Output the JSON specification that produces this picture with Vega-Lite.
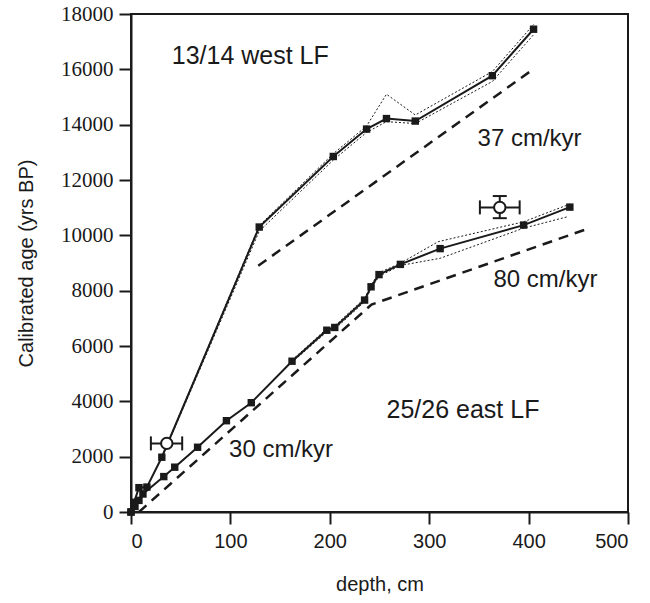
{
  "$schema": "https://vega.github.io/schema/vega-lite/v6.json",
  "autosize": "none",
  "width": 497,
  "height": 498,
  "padding": {"left": 131, "top": 14, "right": 22, "bottom": 91},
  "background": "white",
  "config": {
    "view": {"stroke": "#1a1a1a", "strokeWidth": 2},
    "axis": {"domainColor": "#1a1a1a", "domainWidth": 2, "tickColor": "#1a1a1a", "tickWidth": 2, "labelColor": "#1a1a1a", "titleColor": "#1a1a1a", "grid": false, "titleFontWeight": "normal", "titleFont": "Liberation Sans", "titleFontSize": 20}
  },
  "datasets": {
    "cores": [
      {"core": "13/14 west", "depth": 0, "age": 0},
      {"core": "13/14 west", "depth": 3, "age": 350},
      {"core": "13/14 west", "depth": 8, "age": 880},
      {"core": "13/14 west", "depth": 16, "age": 900},
      {"core": "13/14 west", "depth": 31, "age": 1980},
      {"core": "13/14 west", "depth": 129, "age": 10300},
      {"core": "13/14 west", "depth": 203.5, "age": 12850},
      {"core": "13/14 west", "depth": 237, "age": 13840},
      {"core": "13/14 west", "depth": 257, "age": 14220},
      {"core": "13/14 west", "depth": 286, "age": 14130},
      {"core": "13/14 west", "depth": 363.5, "age": 15770},
      {"core": "13/14 west", "depth": 405, "age": 17450},
      {"core": "25/26 east", "depth": 0, "age": 0},
      {"core": "25/26 east", "depth": 4, "age": 200},
      {"core": "25/26 east", "depth": 8, "age": 420},
      {"core": "25/26 east", "depth": 12, "age": 650},
      {"core": "25/26 east", "depth": 33, "age": 1280},
      {"core": "25/26 east", "depth": 44, "age": 1620},
      {"core": "25/26 east", "depth": 67, "age": 2340},
      {"core": "25/26 east", "depth": 96, "age": 3300},
      {"core": "25/26 east", "depth": 121, "age": 3950},
      {"core": "25/26 east", "depth": 162, "age": 5450},
      {"core": "25/26 east", "depth": 197, "age": 6570},
      {"core": "25/26 east", "depth": 205, "age": 6670},
      {"core": "25/26 east", "depth": 235, "age": 7660},
      {"core": "25/26 east", "depth": 241.5, "age": 8140},
      {"core": "25/26 east", "depth": 249.5, "age": 8580},
      {"core": "25/26 east", "depth": 271, "age": 8950},
      {"core": "25/26 east", "depth": 311, "age": 9520},
      {"core": "25/26 east", "depth": 395, "age": 10370},
      {"core": "25/26 east", "depth": 441.5, "age": 11020}
    ],
    "envelope": [
      {"bound": "west upper", "depth": 31, "age": 2000},
      {"bound": "west upper", "depth": 129, "age": 10350},
      {"bound": "west upper", "depth": 203.5, "age": 12950},
      {"bound": "west upper", "depth": 237, "age": 13950},
      {"bound": "west upper", "depth": 257, "age": 15100},
      {"bound": "west upper", "depth": 286, "age": 14350},
      {"bound": "west upper", "depth": 363.5, "age": 15920},
      {"bound": "west upper", "depth": 405, "age": 17620},
      {"bound": "west lower", "depth": 31, "age": 1950},
      {"bound": "west lower", "depth": 129, "age": 10150},
      {"bound": "west lower", "depth": 203.5, "age": 12720},
      {"bound": "west lower", "depth": 237, "age": 13720},
      {"bound": "west lower", "depth": 257, "age": 14110},
      {"bound": "west lower", "depth": 286, "age": 14040},
      {"bound": "west lower", "depth": 363.5, "age": 15560},
      {"bound": "west lower", "depth": 405, "age": 17250},
      {"bound": "east upper", "depth": 162, "age": 5490},
      {"bound": "east upper", "depth": 197, "age": 6630},
      {"bound": "east upper", "depth": 205, "age": 6730},
      {"bound": "east upper", "depth": 235, "age": 7720},
      {"bound": "east upper", "depth": 241.5, "age": 8200},
      {"bound": "east upper", "depth": 249.5, "age": 8650},
      {"bound": "east upper", "depth": 271, "age": 8990},
      {"bound": "east upper", "depth": 309, "age": 9770},
      {"bound": "east upper", "depth": 395, "age": 10490},
      {"bound": "east upper", "depth": 441.5, "age": 11130},
      {"bound": "east lower", "depth": 162, "age": 5410},
      {"bound": "east lower", "depth": 197, "age": 6510},
      {"bound": "east lower", "depth": 205, "age": 6610},
      {"bound": "east lower", "depth": 235, "age": 7600},
      {"bound": "east lower", "depth": 241.5, "age": 8080},
      {"bound": "east lower", "depth": 249.5, "age": 8520},
      {"bound": "east lower", "depth": 271, "age": 8910},
      {"bound": "east lower", "depth": 311, "age": 9170},
      {"bound": "east lower", "depth": 395, "age": 10260},
      {"bound": "east lower", "depth": 439, "age": 10670}
    ],
    "rates": [
      {"segment": "37 cm/kyr", "depth": 128, "age": 8900},
      {"segment": "37 cm/kyr", "depth": 401, "age": 15910},
      {"segment": "30/80 cm/kyr", "depth": 8, "age": 0},
      {"segment": "30/80 cm/kyr", "depth": 242, "age": 7500},
      {"segment": "30/80 cm/kyr", "depth": 458, "age": 10220}
    ],
    "outliers": [
      {"depth": 36, "age": 2480, "depth_lo": 20, "depth_hi": 51.5, "age_lo": 2480, "age_hi": 2480},
      {"depth": 371, "age": 11010, "depth_lo": 351, "depth_hi": 391, "age_lo": 10620, "age_hi": 11420}
    ],
    "minorticks": [
      {"age": 1000}, {"age": 3000}, {"age": 5000}, {"age": 7000}, {"age": 9000},
      {"age": 11000}, {"age": 13000}, {"age": 15000}, {"age": 17000}
    ],
    "corelabels": [
      {"label": "13/14 west LF", "depth": 120, "age": 16500},
      {"label": "25/26 east LF", "depth": 334, "age": 3700}
    ],
    "ratelabels": [
      {"label": "37 cm/kyr", "depth": 401, "age": 13500},
      {"label": "80 cm/kyr", "depth": 417, "age": 8380},
      {"label": "30 cm/kyr", "depth": 151, "age": 2240}
    ]
  },
  "encoding": {
    "x": {"field": "depth", "type": "quantitative", "scale": {"domain": [0, 500], "nice": false},
      "axis": {"title": "depth, cm", "values": [0, 100, 200, 300, 400, 500], "tickSize": 12, "labelFont": "Liberation Sans", "labelFontSize": 20, "labelPadding": 7, "titlePadding": 23}},
    "y": {"field": "age", "type": "quantitative", "scale": {"domain": [0, 18000], "nice": false},
      "axis": {"title": "Calibrated age (yrs BP)", "values": [0,2000,4000,6000,8000,10000,12000,14000,16000,18000],
        "format": "d", "tickSize": 12,
        "labelFont": "Liberation Serif", "labelFontSize": 21, "labelPadding": 6, "titlePadding": 24}}
  },
  "layer": [
    {"data": {"name": "minorticks"}, "mark": {"type": "rule", "strokeWidth": 2, "color": "#1a1a1a", "clip": false}, "encoding": {"x": {"datum": -6, "type": "quantitative"}, "x2": {"datum": 0}}},
    {"data": {"name": "envelope"}, "mark": {"type": "line", "strokeWidth": 1, "strokeDash": [2, 2], "color": "#1a1a1a"}, "encoding": {"detail": {"field": "bound"}}},
    {"data": {"name": "rates"}, "mark": {"type": "line", "strokeWidth": 2.5, "strokeDash": [10, 7], "color": "#1a1a1a"}, "encoding": {"detail": {"field": "segment"}}},
    {"data": {"name": "cores"}, "mark": {"type": "line", "strokeWidth": 2, "color": "#1a1a1a"}, "encoding": {"detail": {"field": "core"}}},
    {"data": {"name": "cores"}, "mark": {"type": "square", "size": 55, "filled": true, "opacity": 1, "color": "#1a1a1a"}},
    {"data": {"name": "outliers"}, "mark": {"type": "rule", "strokeWidth": 2, "color": "#1a1a1a"}, "encoding": {"x": {"field": "depth_lo", "type": "quantitative"}, "x2": {"field": "depth_hi"}}},
    {"data": {"name": "outliers"}, "mark": {"type": "rule", "strokeWidth": 2, "color": "#1a1a1a"}, "encoding": {"y": {"field": "age_lo", "type": "quantitative"}, "y2": {"field": "age_hi"}}},
    {"data": {"name": "outliers"}, "mark": {"type": "tick", "orient": "vertical", "size": 14, "thickness": 2, "color": "#1a1a1a", "opacity": 1}, "encoding": {"x": {"field": "depth_lo", "type": "quantitative"}}},
    {"data": {"name": "outliers"}, "mark": {"type": "tick", "orient": "vertical", "size": 14, "thickness": 2, "color": "#1a1a1a", "opacity": 1}, "encoding": {"x": {"field": "depth_hi", "type": "quantitative"}}},
    {"data": {"name": "outliers"}, "transform": [{"filter": "datum.age_hi > datum.age_lo"}], "mark": {"type": "tick", "orient": "horizontal", "size": 14, "thickness": 2, "color": "#1a1a1a", "opacity": 1}, "encoding": {"y": {"field": "age_lo", "type": "quantitative"}}},
    {"data": {"name": "outliers"}, "transform": [{"filter": "datum.age_hi > datum.age_lo"}], "mark": {"type": "tick", "orient": "horizontal", "size": 14, "thickness": 2, "color": "#1a1a1a", "opacity": 1}, "encoding": {"y": {"field": "age_hi", "type": "quantitative"}}},
    {"data": {"name": "outliers"}, "mark": {"type": "point", "shape": "circle", "size": 130, "filled": true, "fill": "white", "stroke": "#1a1a1a", "strokeWidth": 2, "opacity": 1}},
    {"data": {"name": "corelabels"}, "mark": {"type": "text", "font": "Liberation Sans", "fontSize": 25, "color": "#1a1a1a"}, "encoding": {"text": {"field": "label"}}},
    {"data": {"name": "ratelabels"}, "mark": {"type": "text", "font": "Liberation Sans", "fontSize": 24, "color": "#1a1a1a"}, "encoding": {"text": {"field": "label"}}}
  ]
}
